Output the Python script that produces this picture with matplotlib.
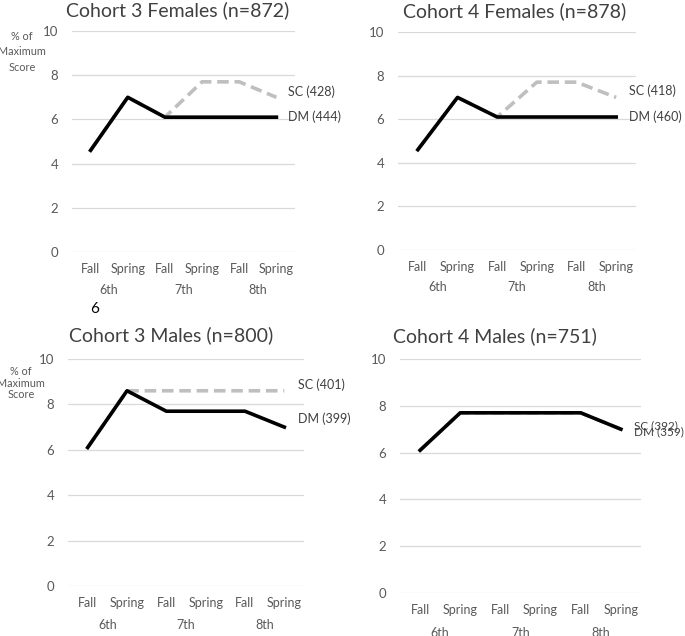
import matplotlib
matplotlib.use("Agg")
import matplotlib.pyplot as plt
import matplotlib.transforms as mtransforms

plt.rcParams['font.family'] = ['Lato', 'DejaVu Sans']

seasons = ["Fall", "Spring", "Fall", "Spring", "Fall", "Spring"]
grades = ["6th", "7th", "8th"]
yticks = [0, 2, 4, 6, 8, 10]

titles = ["Cohort 3 Females (n=872)", "Cohort 4 Females (n=878)",
          "Cohort 3 Males (n=800)", "Cohort 4 Males (n=751)"]

dm_c3f = [4.6, 7.0, 6.1, 6.1, 6.1, 6.1]
sc_c3f = [4.6, 7.0, 6.1, 7.7, 7.7, 7.0]
dm_c4f = [4.6, 7.0, 6.1, 6.1, 6.1, 6.1]
sc_c4f = [4.6, 7.0, 6.1, 7.7, 7.7, 7.0]
dm_c3m = [6.1, 8.6, 7.7, 7.7, 7.7, 7.0]
sc_c3m = [6.1, 8.6, 8.6, 8.6, 8.6, 8.6]
dm_c4m = [6.1, 7.7, 7.7, 7.7, 7.7, 7.0]
sc_c4m = [6.1, 7.7, 7.7, 7.7, 7.7, 7.0]

dm_labels = ["DM (444)", "DM (460)", "DM (399)", "DM (359)"]
sc_labels = ["SC (428)", "SC (418)", "SC (401)", "SC (392)"]

W, H = 685, 636
fig = plt.figure(figsize=(W / 100, H / 100), dpi=100)

# axes boxes in pixels: (left, top, right, bottom)
boxes = [(72, 31, 295, 252), (398, 32, 636, 250),
         (68, 359, 304, 586), (400, 359, 641, 593)]
title_pos = [(178, 10), (515, 11), (171, 335), (495, 336)]
# label y positions (data units) for SC, DM
label_y = [(7.25, 6.1), (7.3, 6.1), (8.85, 7.35), (7.15, 6.9)]
label_x = [5.32, 5.32, 5.35, 5.33]
label_size = [9, 9, 9, 8.5]
# y-axis caption placement (axes fraction) and line spacing
ycap = {0: (-0.225, 0.905, 1.45), 2: (-0.2, 0.894, 1.05)}

dms = [dm_c3f, dm_c4f, dm_c3m, dm_c4m]
scs = [sc_c3f, sc_c4f, sc_c3m, sc_c4m]

grid_c = "#D9D9D9"
tick_c = "#595959"

for i in range(4):
    l, t, r, b = boxes[i]
    ax = fig.add_axes([l / W, 1 - b / H, (r - l) / W, (b - t) / H])
    x = list(range(len(seasons)))
    ax.plot(x, scs[i], color="#BFBFBF", lw=2.6, dashes=(3.2, 1.6), solid_capstyle='butt', zorder=2)
    ax.plot(x, dms[i], color="black", lw=2.6, zorder=3)
    ax.set_xlim(-0.5, 5.5)
    ax.set_ylim(0, 10)
    ax.set_yticks(yticks)
    ax.set_yticklabels([str(v) for v in yticks], color=tick_c, fontsize=9.5)
    ax.set_xticks(x)
    ax.set_xticklabels(seasons, color=tick_c, fontsize=9)
    ax.tick_params(length=0, pad=8)
    ax.tick_params(axis='y', pad=10)
    ax.grid(axis='y', color=grid_c, lw=0.9)
    ax.set_axisbelow(True)
    for s in ax.spines.values():
        s.set_visible(False)
    trans = mtransforms.blended_transform_factory(ax.transData, ax.transAxes)
    for g, gname in enumerate(grades):
        ax.text(2 * g + 0.5, -0.17, gname, transform=trans, ha='center', va='center',
                color=tick_c, fontsize=9)
    ax.text(label_x[i], label_y[i][0], sc_labels[i], ha='left', va='center',
            color="#404040", fontsize=label_size[i], clip_on=False)
    ax.text(label_x[i], label_y[i][1], dm_labels[i], ha='left', va='center',
            color="#404040", fontsize=label_size[i], clip_on=False)
    tx, ty = title_pos[i]
    fig.text(tx / W, 1 - ty / H, titles[i], ha='center', va='center',
             color="#404040", fontsize=14)
    if i in ycap:
        cx, cy, ls = ycap[i]
        ax.text(cx, cy, "% of\nMaximum\nScore", transform=ax.transAxes,
                ha='center', va='center', color=tick_c, fontsize=7.8, linespacing=ls)

fig.text(95 / W, 1 - 309 / H, "6", ha='center', va='center', color="black", fontsize=11)

fig.savefig("out.png", dpi=100)
